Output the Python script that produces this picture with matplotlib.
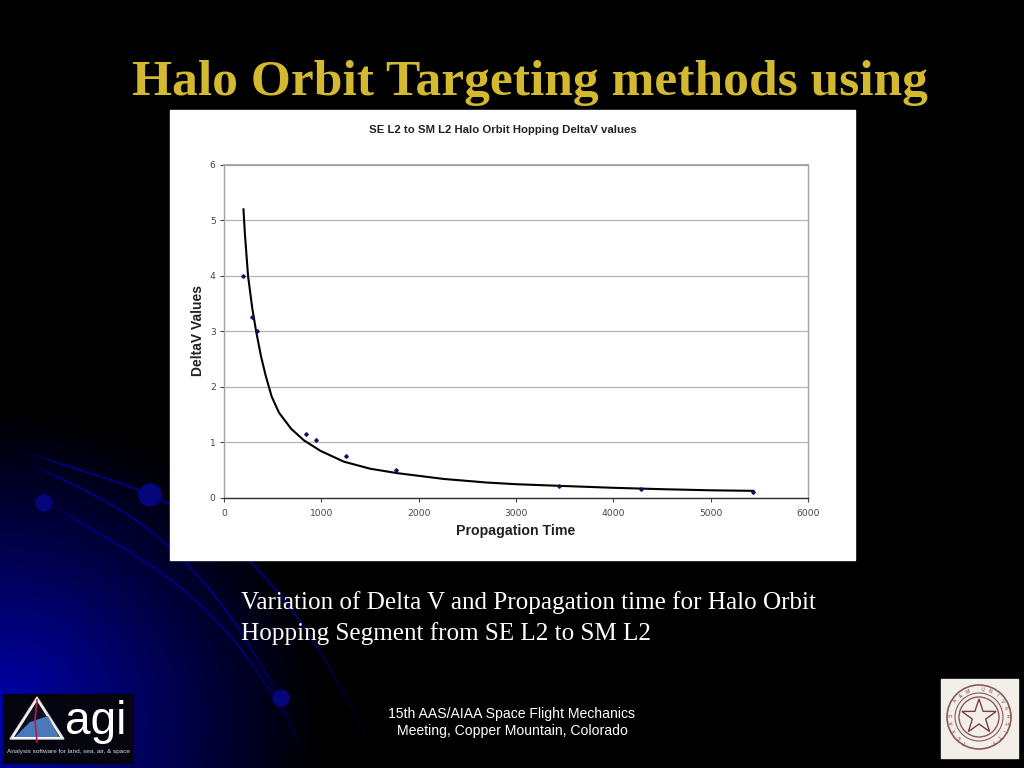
import matplotlib
matplotlib.use('Agg')
import matplotlib.pyplot as plt
import numpy as np
from matplotlib.collections import LineCollection
from matplotlib.patches import Circle, Polygon, Rectangle

W, H = 1024, 768

# trend curve and data points
curve_t = [200, 215, 247, 290, 330, 380, 428, 490, 565, 690, 822, 993, 1233, 1500,
           1778, 2261, 2700, 3000, 3450, 4000, 4500, 5000, 5440]
curve_dv = [5.2, 4.75, 4.0, 3.42, 3.0, 2.55, 2.2, 1.82, 1.53, 1.24, 1.03, 0.84, 0.646, 0.52,
            0.44, 0.334, 0.27, 0.24, 0.21, 0.175, 0.15, 0.13, 0.12]
point_t = [200, 290, 340, 840, 950, 1250, 1770, 3440, 4280, 5440]
point_dv = [4.0, 3.25, 3.0, 1.15, 1.03, 0.75, 0.5, 0.2, 0.16, 0.1]
x_ticks = [0, 1000, 2000, 3000, 4000, 5000, 6000]
y_ticks = [0, 1, 2, 3, 4, 5, 6]

title = 'Halo Orbit Targeting methods using'
chart_title = 'SE L2 to SM L2 Halo Orbit Hopping DeltaV values'
caption = ['Variation of Delta V and Propagation time for Halo Orbit',
           'Hopping Segment from SE L2 to SM L2']
footer = ['15th AAS/AIAA Space Flight Mechanics', 'Meeting, Copper Mountain, Colorado']
seal_text = 'TEXAS A&M UNIVERSITY'

# background arcs of the slide, in pixels
arcs = [([27, 90, 140, 170, 245, 323, 375], [453, 472, 490, 505, 560, 653, 760]),
        ([30, 100, 170, 230, 273, 305], [465, 497, 550, 615, 687, 755]),
        ([57, 133, 200, 230, 270, 305], [508, 553, 607, 635, 690, 755])]
dots = [(150, 495, 11), (44, 503, 8), (281, 698, 8)]


def px_axes(x0, y0, x1, y1, **kw):
    return fig.add_axes([x0 / W, 1 - y1 / H, (x1 - x0) / W, (y1 - y0) / H], **kw)


fig = plt.figure(figsize=(W / 100, H / 100), dpi=100, facecolor='black')

bg = px_axes(0, 0, W, H)
bg.set_xlim(0, W)
bg.set_ylim(H, 0)
bg.axis('off')

xx, yy = np.meshgrid(np.arange(W), np.arange(H))
r = np.sqrt((xx / 320.0) ** 2 + ((yy - 720) / 310.0) ** 2)
blue = np.clip(1 - r, 0, 1) ** 1.05 * 0.7
img = np.dstack([np.zeros_like(blue), np.zeros_like(blue), blue])
bg.imshow(img, extent=(0, W, H, 0), aspect='auto', zorder=0)

for ax_, ay_ in arcs:
    c = np.polyfit(ax_, ay_, 3)
    xs = np.linspace(ax_[0], ax_[-1], 200)
    ys = np.polyval(c, xs)
    segs = np.stack([np.column_stack([xs[:-1], ys[:-1]]), np.column_stack([xs[1:], ys[1:]])], axis=1)
    # arcs fade out at both ends
    u = np.linspace(0, 1, len(segs))
    alpha = np.clip(u / 0.1, 0.2, 1) * np.clip((1 - u) / 0.25, 0, 1)
    colors = np.column_stack([np.zeros_like(u), np.zeros_like(u), np.full_like(u, 0.5), alpha])
    bg.add_collection(LineCollection(segs, colors=colors, linewidths=1.6, zorder=1))
for dx, dy, dr in dots:
    bg.add_patch(Circle((dx, dy), dr, color='#06067c', zorder=2))

bg.text(529.5, 83, title, color='#d3b92f', fontsize=37.05, fontweight='bold',
        family='Liberation Serif', ha='center', va='center')
for i, line in enumerate(caption):
    bg.text(241, 603 + i * 31, line, color='white', fontsize=18.1,
            family='Liberation Serif', ha='left', va='center')
for i, line in enumerate(footer):
    bg.text(512, 714 + i * 17, line, color='white', fontsize=10.1,
            family='Liberation Sans', ha='center', va='center')

# white chart panel
bg.add_patch(Rectangle((170, 110), 685, 450, color='white', zorder=3))
bg.text(503, 130, chart_title, color='#222222', fontsize=8.2, fontweight='bold',
        family='Liberation Sans', ha='center', va='center', zorder=4)
bg.text(198, 331, 'DeltaV Values', color='#222222', fontsize=10, fontweight='bold',
        family='Liberation Sans', rotation=90, ha='center', va='center', zorder=4)
bg.text(516, 531, 'Propagation Time', color='#222222', fontsize=10.2, fontweight='bold',
        family='Liberation Sans', ha='center', va='center', zorder=4)

# AGI logo
bg.add_patch(Rectangle((3, 694), 130, 69, color='#050510', zorder=3))
bg.add_patch(Polygon([[10, 739], [37, 697], [64, 739]], closed=True, fc='#ffffff', ec='#dddddd', zorder=4))
bg.add_patch(Polygon([[14, 737], [37, 701], [60, 737]], closed=True, fc='#101020', ec='none', zorder=5))
bg.add_patch(Polygon([[15, 737], [30, 722], [48, 716], [59, 737]], closed=True, fc='#4a78b8', ec='none', zorder=6))
bg.plot([37, 35, 37], [700, 720, 742], color='#b02040', lw=1.2, zorder=7)
bg.text(96, 722, 'agi', color='white', fontsize=33, family='Liberation Sans',
        ha='center', va='center', zorder=7)
bg.text(68, 752, 'Analysis software for land, sea, air, & space', color='#dddddd', fontsize=4.6,
        family='Liberation Sans', ha='center', va='center', zorder=7)

# university seal
bg.add_patch(Rectangle((941, 679), 77, 79, color='#f2efe8', zorder=3))
for rad, lw in [(32, 1.2), (24, 0.8), (20, 1.0)]:
    bg.add_patch(Circle((979, 717), rad, fc='none', ec='#8a5a5a', lw=lw, zorder=4))
angles = np.deg2rad(np.arange(0, 360, 36) - 90)
radii = np.where(np.arange(10) % 2 == 0, 18, 7)
star = np.column_stack([979 + radii * np.cos(angles), 717 + radii * np.sin(angles)])
bg.add_patch(Polygon(star, closed=True, fc='#f2efe8', ec='#7a4040', lw=1, zorder=5))
for ch, a in zip(seal_text, np.linspace(-150, 150, len(seal_text))):
    rad_a = np.deg2rad(a)
    bg.text(979 + 28 * np.sin(rad_a), 717 - 28 * np.cos(rad_a), ch, fontsize=3.6, color='#7a4040',
            rotation=-a, ha='center', va='center', family='Liberation Sans', zorder=5)

# the chart itself
ax = px_axes(224, 165, 808, 497.5)
ax.patch.set_alpha(0)
ax.set_zorder(5)
ax.set_xlim(0, 6000)
ax.set_ylim(0, 6)
ax.set_xticks(x_ticks)
ax.set_yticks(y_ticks)
ax.grid(axis='y', color='#b4b4b4', lw=0.9)
ax.set_axisbelow(True)
ax.plot(curve_t, curve_dv, color='black', lw=1.5)
ax.plot(point_t, point_dv, ls='none', marker='D', ms=1.8, color='#101060')
ax.tick_params(labelsize=6.6, colors='#444444', length=3, width=0.8, pad=3)
ax.tick_params(axis='x', pad=5)
for name, spine in ax.spines.items():
    spine.set_color('#a0a0a0')
    spine.set_linewidth(1.0)
ax.spines['bottom'].set_color('#303030')
ax.spines['top'].set_linewidth(1.3)

fig.savefig('out.png', dpi=100, facecolor='black')
